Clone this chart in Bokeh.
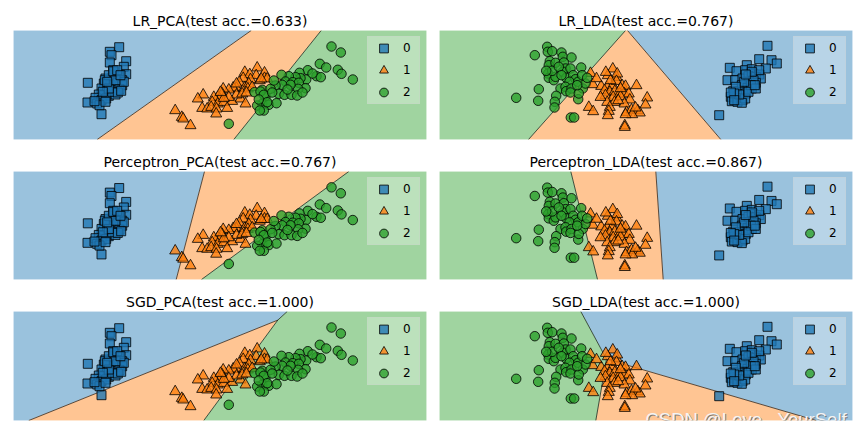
from bokeh.plotting import figure
from bokeh.layouts import gridplot
from bokeh.models import Range1d, Label
from bokeh.embed import file_html
from bokeh.resources import INLINE

# ---------------- data (panel units: x 0..413, y 0..109 measured downward) ----------------
FRAME_W, FRAME_H = 413, 109

models = ["LR", "Perceptron", "SGD"]
acc_pca = [0.633, 0.767, 1.000]
acc_lda = [0.767, 0.867, 1.000]
class_labels = ["0", "1", "2"]

# PCA projection
pca0_x = [105.7, 96.3, 98, 96.3, 112.7, 110.3, 99.7, 112.7, 74.3, 74, 88, 92, 98.7, 105.3, 108.7, 90.3, 97, 103.7,
          108.7, 88, 93.7, 100.3, 106, 85.3, 90.3, 95.3, 102, 82, 88, 92.7, 83.7, 86, 98.7, 104.3, 91.3, 95.3, 100.3,
          95.3, 81, 110.3, 102, 93.7, 89.3, 107.7, 92, 99.7, 103.7, 107]
pca0_y = [16.7, 21.3, 24.7, 32, 30.7, 36.3, 39.7, 43.7, 52.3, 72, 83.7, 48, 47.3, 44.7, 49.7, 53, 54.7, 52.3, 54.7,
          58, 60.3, 59.7, 58.7, 64, 64.7, 65.3, 64, 67.3, 69.7, 68, 73, 74.7, 61.3, 62, 49.7, 44.7, 41.3, 58, 70.7,
          51.3, 49.7, 51.3, 61.3, 60.3, 71.3, 40.7, 39.7, 44.7]
pca1_x = [243.7, 231.3, 236.3, 242.7, 251, 246.3, 237, 229.7, 225.7, 223, 231, 235.3, 234.3, 219.7, 215.3, 209.7,
          208.7, 204.3, 206.3, 200.3, 189.7, 184.3, 198.7, 204.3, 210.3, 218.7, 227, 232, 223, 215.3, 210.3, 188.7,
          193.7, 197.7, 203, 202.7, 213.7, 161.7, 168.3, 169.7, 177, 207, 228.7, 223, 238.7, 233, 251, 253.7, 247.7]
pca1_y = [37.3, 41.7, 44, 45, 42.3, 50, 49, 47.7, 51.7, 57.7, 57.3, 53.3, 58.3, 57.3, 59.3, 58.3, 63.3, 66.7, 68.3,
          66.7, 64.3, 68.3, 71.7, 73.3, 71.7, 70.7, 68.3, 73.3, 64.3, 66.7, 67.7, 77.7, 78.3, 76.7, 78.3, 83.3, 77.7,
          80, 86.7, 88.3, 95, 61.7, 63.3, 53.3, 56.7, 62.3, 47.7, 48.3, 48.3]
pca2_x = [318, 327.3, 306.3, 312.7, 324.3, 328, 339.3, 303, 307.3, 294.3, 286, 292.7, 287, 282, 275.3, 268, 272,
          279.3, 285.3, 292, 284.7, 277, 268.7, 262, 265.3, 271, 278, 283.7, 248.7, 257, 252, 248.7, 255.3, 263,
          243.7, 250.3, 241, 247, 250.3, 246.3, 215.3, 253.7, 245.3, 260.3, 299, 274, 258.7, 289]
pca2_y = [16, 22, 33.3, 37, 39.3, 43.3, 49, 45.7, 46.7, 39.7, 42.3, 49, 47.7, 46.7, 45.7, 44.3, 51, 51.7, 52.3, 57.7,
          58.3, 54.3, 54.3, 55, 63.3, 64.3, 64.3, 65, 59.3, 58.3, 66, 73.3, 74.3, 72.7, 75, 80, 61.7, 61, 64.3, 80,
          93.3, 71.7, 69, 50, 43, 59, 62, 62]

# LDA projection
lda0_x = [328, 319.7, 332, 337.3, 326.3, 290.3, 297, 307.3, 305.7, 312.3, 313.7, 319.7, 288, 295.7, 303, 309, 316.3,
          321.3, 309.7, 316.3, 302.3, 308, 312.3, 293.7, 300.3, 306.3, 291.3, 297, 292.3, 298, 303, 305.7, 302.3,
          279.7, 314, 311.3, 304.7, 296.3, 319.7, 312.3, 299.7, 294.7, 309, 316.3, 291.3, 306.3, 294.7, 315.3]
lda0_y = [15.3, 28.7, 29.7, 33, 38, 37.3, 40.7, 34.7, 39.7, 38.7, 43, 44, 49.7, 49.7, 48, 45.7, 46.3, 48, 51.3, 52.3,
          54.7, 57.3, 58, 60.7, 61.3, 63, 66.3, 67.3, 70.7, 71.3, 69.7, 68, 72.3, 84.7, 49.7, 54.7, 51.3, 56.3, 39.7,
          41.3, 64, 63, 61.3, 58, 62, 44, 69.7, 54.7]
lda1_x = [173.3, 151, 168.3, 177, 177.7, 153.3, 161.7, 167.7, 173.3, 177, 182.7, 186, 197, 165, 170.3, 175.3, 180.3,
          185, 189.3, 166, 173.7, 190.3, 181, 167.7, 175, 185, 207.7, 206, 149.3, 153.7, 170.3, 169.3, 168.3, 187,
          192, 198.3, 200.3, 192.7, 186, 196, 185.3, 185.3, 161, 178.7, 157, 171, 181, 166.3]
lda1_y = [38.3, 42.7, 45, 46.7, 43.3, 54, 55.7, 56.7, 55, 50.7, 55, 55.7, 55, 60, 61.7, 60.7, 63.3, 63.3, 63.3, 65,
          66.7, 69.3, 66, 71.7, 71.7, 73.3, 67.3, 74.3, 76.7, 81, 76.7, 80.7, 85, 81.7, 79.3, 80, 82.3, 84, 84, 77.3,
          95, 96.7, 66.7, 70, 48, 50, 58, 41.7]
lda2_x = [107.7, 108.3, 112.7, 95.3, 122, 123.3, 132, 110.3, 109.3, 116, 124.3, 126, 123.3, 131, 141.7, 108.7, 109.3,
          114.3, 116, 126.7, 133.7, 136, 130, 138.7, 121, 126, 126.7, 132, 131, 143.3, 146, 99.3, 76.7, 98.7, 116.7,
          115.3, 115, 138.7, 139.3, 131.3, 134.7, 112.7, 119.3, 137.7, 142.7, 147.7, 122, 106.7]
lda2_y = [16.3, 21.3, 20.7, 24.7, 22, 26.3, 27, 30.7, 34.7, 32.3, 32, 38, 41.3, 38, 37, 43, 47.3, 49.7, 46.3, 47.3,
          44.7, 48.7, 51.3, 51.3, 58, 56.3, 60.7, 58, 62, 58, 53, 58.7, 67.3, 70.3, 65.3, 71.3, 77, 68.7, 63, 87, 87,
          40.3, 36.3, 54.7, 44.7, 47.3, 44.7, 40.3]

# Decision regions (polygons per class) and boundary segments (x0, y0, x1, y1)
lr_pca_regions = {0: ([0, 237.7, 83.7, 0], [0, 0, 109, 109]),
                  1: ([237.7, 307.7, 220.3, 83.7], [0, 0, 109, 109]),
                  2: ([307.7, 413, 413, 220.3], [0, 0, 109, 109])}
lr_pca_bounds = ([237.7, 307.7], [0, 0], [83.7, 220.3], [109, 109])

lr_lda_regions = {2: ([0, 186, 89, 0], [0, 0, 109, 109]),
                  1: ([186, 188, 281.3, 89], [0, 0, 109, 109]),
                  0: ([188, 413, 413, 281.3], [0, 0, 109, 109])}
lr_lda_bounds = ([186, 188], [0, 0], [89, 281.3], [109, 109])

pe_pca_regions = {0: ([0, 191, 162.7, 0], [0, 0, 109, 109]),
                  1: ([191, 335.3, 188, 162.7], [0, 0, 109, 109]),
                  2: ([335.3, 413, 413, 188], [0, 0, 109, 109])}
pe_pca_bounds = ([191, 335.3], [0, 0], [162.7, 188], [109, 109])

pe_lda_regions = {2: ([0, 131.3, 158, 0], [0, 0, 109, 109]),
                  1: ([131.3, 216.3, 223.7, 158], [0, 0, 109, 109]),
                  0: ([216.3, 413, 413, 223.7], [0, 0, 109, 109])}
pe_lda_bounds = ([131.3, 216.3], [0, 0], [158, 223.7], [109, 109])

sgd_pca_regions = {0: ([0, 273.7, 264.3, 15.3, 0], [0, 0, 8.6, 109, 109]),
                   1: ([264.3, 190.3, 15.3], [8.6, 109, 109]),
                   2: ([273.7, 413, 413, 190.3, 264.3], [0, 0, 109, 109, 8.6])}
sgd_pca_bounds = ([273.7, 264.3, 264.3], [0, 8.6, 8.6], [264.3, 15.3, 190.3], [8.6, 109, 109])

sgd_lda_regions = {2: ([0, 141.3, 167, 156.3, 0], [0, 0, 47.6, 109, 109]),
                   0: ([141.3, 413, 413, 376.7, 167], [0, 0, 109, 109, 47.6]),
                   1: ([167, 376.7, 156.3], [47.6, 109, 109])}
sgd_lda_bounds = ([141.3, 167, 167], [0, 47.6, 47.6], [167, 376.7, 156.3], [47.6, 109, 109])

watermark = "CSDN @Love _YourSelf"

# ---------------- styling ----------------
CLASS_COLORS = ["#1f77b4", "#ff7f0e", "#2ca02c"]
MARKERS = ["square", "triangle", "circle"]
MARKER_SIZES = [9, 11, 9.5]


def blend(hexc, a=0.45):
    r, g, b = int(hexc[1:3], 16), int(hexc[3:5], 16), int(hexc[5:7], 16)
    mix = lambda c: int(round(255 - a * (255 - c)))
    return "#%02x%02x%02x" % (mix(r), mix(g), mix(b))


REGION_COLORS = [blend(c) for c in CLASS_COLORS]
PCA = [(pca0_x, pca0_y), (pca1_x, pca1_y), (pca2_x, pca2_y)]
LDA = [(lda0_x, lda0_y), (lda1_x, lda1_y), (lda2_x, lda2_y)]

ROW_H = [150, 140, 142]
TOP_B = [30, 20, 21]
BOT_B = [11, 11, 12]


def panel(title, regions, bounds, pts, col, row):
    width = 432 if col == 0 else 433
    p = figure(width=width, height=ROW_H[row], title=title,
               x_range=Range1d(0, FRAME_W), y_range=Range1d(FRAME_H, 0),
               x_axis_location=None, y_axis_location=None,
               toolbar_location=None, output_backend="svg",
               min_border_left=13 if col == 0 else 7,
               min_border_right=6 if col == 0 else 13,
               min_border_top=TOP_B[row],
               min_border_bottom=BOT_B[row])
    p.outline_line_color = None
    p.grid.visible = False
    p.background_fill_color = "white"
    p.title.align = "center"
    p.title.text_font = "DejaVu Sans"
    p.title.text_font_size = "14px"
    p.title.text_font_style = "normal"
    p.title.text_color = "black"
    p.title.standoff = 3
    for k in (0, 1, 2):
        xs, ys = regions[k]
        p.patch(xs, ys, fill_color=REGION_COLORS[k], line_color=REGION_COLORS[k], line_width=0.5)
    x0, y0, x1, y1 = bounds
    p.segment(x0, y0, x1, y1, line_color="black", line_width=0.8, line_alpha=0.8)
    for k in (0, 1, 2):
        xs, ys = pts[k]
        p.scatter(xs, ys, marker=MARKERS[k], size=MARKER_SIZES[k],
                  fill_color=CLASS_COLORS[k], fill_alpha=0.8,
                  line_color="black", line_alpha=0.8, line_width=1,
                  legend_label=class_labels[k])
    lg = p.legend[0]
    lg.location = "top_right"
    lg.margin = 6
    lg.padding = 0
    lg.spacing = -4
    lg.glyph_height = 22
    lg.glyph_width = 31
    lg.label_height = 22
    lg.label_width = 16
    lg.label_standoff = 4
    lg.label_text_font = "DejaVu Sans"
    lg.label_text_font_size = "12px"
    lg.label_text_color = "black"
    lg.background_fill_color = "white"
    lg.background_fill_alpha = 0.3
    lg.border_line_color = "#cccccc"
    lg.border_line_alpha = 0.3
    return p


rows = []
pca_sets = [(lr_pca_regions, lr_pca_bounds), (pe_pca_regions, pe_pca_bounds), (sgd_pca_regions, sgd_pca_bounds)]
lda_sets = [(lr_lda_regions, lr_lda_bounds), (pe_lda_regions, pe_lda_bounds), (sgd_lda_regions, sgd_lda_bounds)]
for i, m in enumerate(models):
    left = panel("%s_PCA(test acc.=%.3f)" % (m, acc_pca[i]), pca_sets[i][0], pca_sets[i][1], PCA, 0, i)
    right = panel("%s_LDA(test acc.=%.3f)" % (m, acc_lda[i]), lda_sets[i][0], lda_sets[i][1], LDA, 1, i)
    rows.append([left, right])

last = rows[2][1]
# watermark: grey shadow underneath, white text on top
last.add_layout(Label(x=206, y=107.5, x_offset=1, y_offset=-1, text=watermark, text_font="Liberation Sans",
                      text_font_size="18.5px", text_color="#6e6e6e", text_alpha=0.9,
                      text_baseline="alphabetic"))
last.add_layout(Label(x=206, y=107.5, text=watermark, text_font="Liberation Sans",
                      text_font_size="18.5px", text_color="#f4f4f4", text_alpha=1.0,
                      text_baseline="alphabetic"))

grid = gridplot(rows, toolbar_location=None)
open("out.html", "w").write(file_html(grid, INLINE))
